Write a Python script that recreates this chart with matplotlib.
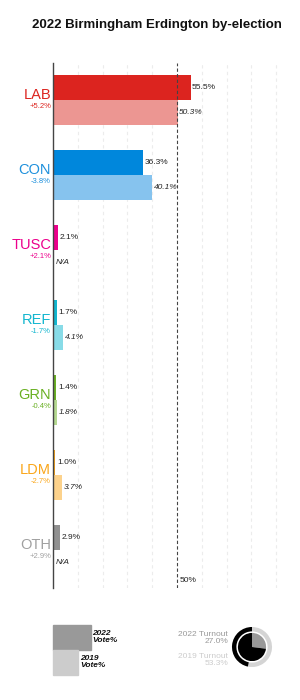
import numpy as np
import matplotlib.pyplot as plt
from matplotlib.patches import Rectangle

plt.rcParams['font.family'] = ['Liberation Sans', 'DejaVu Sans']

parties = ['LAB', 'CON', 'TUSC', 'REF', 'GRN', 'LDM', 'OTH']
vote_2022 = [55.5, 36.3, 2.1, 1.7, 1.4, 1.0, 2.9]
vote_2019 = [50.3, 40.1, None, 4.1, 1.8, 3.7, None]
changes = ['+5.2%', '-3.8%', '+2.1%', '-1.7%', '-0.4%', '-2.7%', '+2.9%']
colors_2022 = ['#DC241F', '#0087DC', '#EC008C', '#12B6CF', '#6AB023', '#FAA61A', '#909090']
colors_2019 = ['#EC9692', '#86C3EE', '#F580C6', '#88DBE7', '#B5D891', '#FCD28C', '#C8C8C8']
label_colors = ['#DC241F', '#1E90DC', '#EC008C', '#12B6CF', '#6AB023', '#FAA61A', '#A0A0A0']
turnout_2022 = 27.0
turnout_2019 = 53.3

fig = plt.figure(figsize=(3, 7), dpi=100)
fig.text(0.523, 0.964, '2022 Birmingham Erdington by-election', ha='center', va='center',
         fontsize=9.5, fontweight='bold', color='#111111')

ax = fig.add_axes([53 / 300, 1 - 587.5 / 700, 248 / 300, 525 / 700])
ax.set_xlim(0, 100)
ax.set_ylim(6.5, -0.5)
for s in ['top', 'right', 'bottom']:
    ax.spines[s].set_visible(False)
ax.spines['left'].set_color('#444444')
ax.spines['left'].set_linewidth(1)
ax.set_xticks([])
ax.set_yticks([])

for g in range(10, 100, 10):
    if g == 50:
        ax.axvline(g, color='#444444', lw=0.8, ls=(0, (3, 2)), zorder=3)
    else:
        ax.axvline(g, color='#ececec', lw=0.8, ls=(0, (3, 3)), zorder=0)

y = np.arange(len(parties))
h = 1 / 3
ax.barh(y - h / 2, vote_2022, height=h, color=colors_2022, zorder=2)
v19 = [v if v is not None else 0 for v in vote_2019]
ax.barh(y + h / 2, v19, height=h, color=colors_2019, zorder=2)

for i, p in enumerate(parties):
    ax.text(-0.8, i - 0.07, p, ha='right', va='center', fontsize=10.5,
            color=label_colors[i], clip_on=False)
    ax.text(-0.8, i + 0.09, changes[i], ha='right', va='center', fontsize=5.5,
            color=label_colors[i], clip_on=False)
    ax.text(vote_2022[i] + 0.6, i - h / 2, f'{vote_2022[i]:.1f}%', ha='left', va='center',
            fontsize=6, color='#222222')
    if vote_2019[i] is None:
        ax.text(1.0, i + h / 2, 'N/A', ha='left', va='center', fontsize=6,
                style='italic', color='#222222')
    else:
        ax.text(vote_2019[i] + 0.6, i + h / 2, f'{vote_2019[i]:.1f}%', ha='left', va='center',
                fontsize=6, style='italic', color='#222222')

ax.text(51.2, 6.41, '50%', ha='left', va='center', fontsize=6, color='#222222')

# legend at the bottom, in pixel coordinates
lg = fig.add_axes([0, 0, 1, 1], zorder=-1)
lg.set_xlim(0, 300)
lg.set_ylim(700, 0)
lg.axis('off')
lg.add_patch(Rectangle((53, 625), 38, 25, color='#999999'))
lg.add_patch(Rectangle((53, 650), 25, 25, color='#cccccc'))
lg.text(92, 637, '2022\nVote%', ha='left', va='center', fontsize=6, style='italic',
        fontweight='bold', color='#111111', linespacing=1.1)
lg.text(80, 662, '2019\nVote%', ha='left', va='center', fontsize=6, style='italic',
        fontweight='bold', color='#111111', linespacing=1.1)
lg.text(228, 638, f'2022 Turnout\n{turnout_2022:.1f}%', ha='right', va='center', fontsize=6,
        color='#999999', linespacing=1.1)
lg.text(228, 660, f'2019 Turnout\n{turnout_2019:.1f}%', ha='right', va='center', fontsize=6,
        color='#cccccc', linespacing=1.1)

dn = fig.add_axes([(252 - 22) / 300, 1 - (647 + 22) / 700, 44 / 300, 44 / 700])
dn.pie([turnout_2019, 100 - turnout_2019], colors=['#d4d4d4', 'black'], startangle=90,
       counterclock=False, radius=0.91, wedgeprops=dict(width=0.2))
dn.pie([turnout_2022, 100 - turnout_2022], colors=['#999999', 'black'], startangle=90,
       counterclock=False, radius=0.64)
dn.set_xlim(-1, 1)
dn.set_ylim(-1, 1)
dn.set_aspect('equal')

fig.savefig('out.png', dpi=100)
